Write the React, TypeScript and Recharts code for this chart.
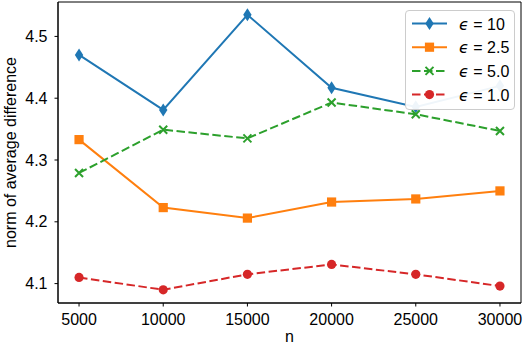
import React from "react";
import { LineChart, Line, XAxis, YAxis, ReferenceArea } from "recharts";

const nValues = [5000, 10000, 15000, 20000, 25000, 30000];
const eps10 = [4.47, 4.381, 4.535, 4.417, 4.386, 4.42];
const eps25 = [4.333, 4.223, 4.206, 4.232, 4.237, 4.25];
const eps50 = [4.279, 4.349, 4.335, 4.393, 4.374, 4.347];
const eps10b = [4.11, 4.09, 4.115, 4.131, 4.115, 4.096];
const xTicks = [5000, 10000, 15000, 20000, 25000, 30000];
const yTicks = [4.1, 4.2, 4.3, 4.4, 4.5];

const data = nValues.map((n, i) => ({
  n,
  e10: eps10[i],
  e25: eps25[i],
  e50: eps50[i],
  e1: eps10b[i],
}));

const BLUE = "#1f77b4";
const ORANGE = "#ff7f0e";
const GREEN = "#2ca02c";
const RED = "#d62728";
const FONT = "'Liberation Sans', Arial, Helvetica, sans-serif";
const DASH = "8.5 3.5";

const X_DOMAIN = [3750, 31250];
const Y_DOMAIN = [4.0686, 4.5557];

// marker shapes, matplotlib style
function Diamond({ cx, cy, color }: any) {
  return <path d={`M${cx},${cy - 6.5} L${cx + 4.2},${cy} L${cx},${cy + 6.5} L${cx - 4.2},${cy} Z`} fill={color} />;
}
function Square({ cx, cy, color }: any) {
  return <rect x={cx - 4.6} y={cy - 4.6} width={9.2} height={9.2} fill={color} />;
}
function Cross({ cx, cy, color }: any) {
  const s = 4;
  return (
    <path
      d={`M${cx - s},${cy - s} L${cx + s},${cy + s} M${cx - s},${cy + s} L${cx + s},${cy - s}`}
      stroke={color}
      strokeWidth={2}
      fill="none"
    />
  );
}
function Circle({ cx, cy, color }: any) {
  return <circle cx={cx} cy={cy} r={4.6} fill={color} />;
}

const dotOf = (Shape: any, color: string) => (p: any) =>
  <Shape key={`${color}-${p.index}`} cx={p.cx} cy={p.cy} color={color} />;

const legendItems = [
  { label: "10", color: BLUE, dash: undefined, Shape: Diamond },
  { label: "2.5", color: ORANGE, dash: undefined, Shape: Square },
  { label: "5.0", color: GREEN, dash: DASH, Shape: Cross },
  { label: "1.0", color: RED, dash: DASH, Shape: Circle },
];

function LegendBox() {
  return (
    <div
      style={{
        position: "absolute",
        left: 405,
        top: 10,
        width: 108,
        height: 98,
        border: "1px solid #cccccc",
        borderRadius: 4,
        background: "rgba(255,255,255,0.93)",
      }}
    >
      <svg width={108} height={98} style={{ display: "block" }}>
        {legendItems.map((it, i) => {
          const y = 12.5 + i * 23.7;
          return (
            <g key={it.label}>
              <line x1={6} x2={41} y1={y} y2={y} stroke={it.color} strokeWidth={2} strokeDasharray={it.dash} />
              <it.Shape cx={23.5} cy={y} color={it.color} />
              <text x={53} y={y + 6} fontSize={16} fontFamily={FONT} fill="#000">
                <tspan fontStyle="italic" fontFamily="'DejaVu Sans'">ϵ</tspan>
                {" = " + it.label}
              </text>
            </g>
          );
        })}
      </svg>
    </div>
  );
}

export default function App() {
  const tick = { fontSize: 16, fill: "#000", fontFamily: FONT };
  return (
    <div style={{ position: "absolute", left: 0, top: 0, width: 524, height: 346, background: "#fff" }}>
      <LineChart width={524} height={346} data={data} margin={{ top: 2, right: 3, left: 0, bottom: 0 }}>
        <XAxis
          dataKey="n"
          type="number"
          domain={X_DOMAIN}
          ticks={xTicks}
          allowDataOverflow
          height={43}
          tick={tick}
          tickSize={3.5}
          tickMargin={7}
          stroke="#000"
          axisLine={{ stroke: "#000", strokeWidth: 1 }}
          tickLine={{ stroke: "#000", strokeWidth: 1 }}
          label={{ value: "n", position: "insideBottom", offset: 4, fontSize: 16, fill: "#000", fontFamily: FONT }}
        />
        <YAxis
          type="number"
          domain={Y_DOMAIN}
          ticks={yTicks}
          allowDataOverflow
          width={58}
          tick={tick}
          tickSize={3.5}
          tickMargin={7}
          tickFormatter={(v: number) => v.toFixed(1)}
          axisLine={{ stroke: "#000", strokeWidth: 1 }}
          tickLine={{ stroke: "#000", strokeWidth: 1 }}
          label={{
            value: "norm of average difference",
            angle: -90,
            position: "insideLeft",
            offset: 0,
            dx: 10,
            style: { textAnchor: "middle" },
            fontSize: 16,
            fill: "#000",
            fontFamily: FONT,
          }}
        />
        <ReferenceArea
          x1={X_DOMAIN[0]}
          x2={X_DOMAIN[1]}
          y1={Y_DOMAIN[0]}
          y2={Y_DOMAIN[1]}
          fill="none"
          fillOpacity={0}
          stroke="#000"
          strokeWidth={1}
          ifOverflow="visible"
        />
        <Line dataKey="e10" stroke={BLUE} strokeWidth={2} dot={dotOf(Diamond, BLUE)} activeDot={false} isAnimationActive={false} />
        <Line dataKey="e25" stroke={ORANGE} strokeWidth={2} dot={dotOf(Square, ORANGE)} activeDot={false} isAnimationActive={false} />
        <Line
          dataKey="e50"
          stroke={GREEN}
          strokeWidth={2}
          strokeDasharray={DASH}
          dot={dotOf(Cross, GREEN)}
          activeDot={false}
          isAnimationActive={false}
        />
        <Line
          dataKey="e1"
          stroke={RED}
          strokeWidth={2}
          strokeDasharray={DASH}
          dot={dotOf(Circle, RED)}
          activeDot={false}
          isAnimationActive={false}
        />
      </LineChart>
      <LegendBox />
    </div>
  );
}
